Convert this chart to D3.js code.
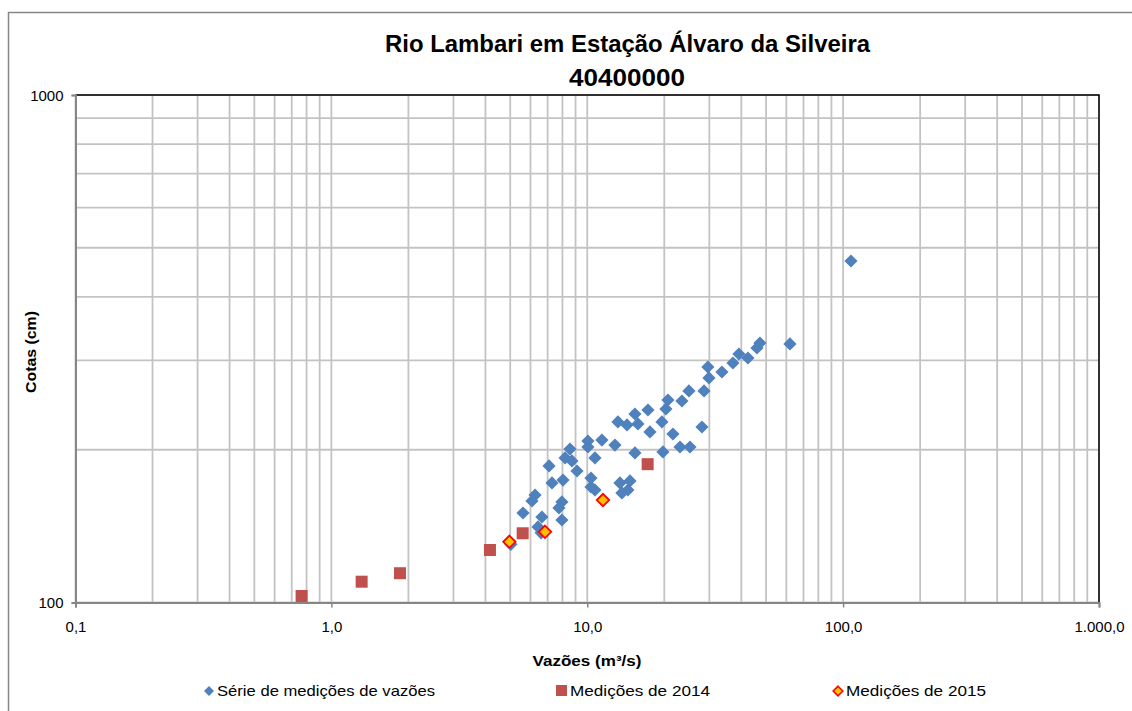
<!DOCTYPE html>
<html>
<head>
<meta charset="utf-8">
<script src="https://cdn.jsdelivr.net/npm/d3@7"></script>
<style>
  html, body { margin: 0; padding: 0; background: #fff; }
  svg { display: block; font-family: "Liberation Sans", Arial, sans-serif; }
</style>
</head>
<body>
<svg id="chart" width="1132" height="711"></svg>
<script>
// Rating curve measurements, Rio Lambari at Estação Álvaro da Silveira (40400000)
const chartTitle = "Rio Lambari em Estação Álvaro da Silveira";
const stationCode = "40400000";
const xTitle = "Vazões (m³/s)";
const yTitle = "Cotas (cm)";

// Historical series of discharge measurements: flow (m³/s) and stage (cm)
const serieVazoes = [107.3, 61.96, 47.3, 46.05, 39.15, 42.46, 37.1, 33.6, 29.6, 29.9,
  28.6, 24.97, 23.44, 20.67, 20.3, 17.27, 15.36, 13.18, 14.3, 15.78,
  19.58, 17.58, 21.62, 28.07, 23.04, 25.2, 19.76, 15.36, 12.83, 11.41,
  10.06, 10.06, 10.72, 8.56, 8.19, 8.71, 9.12, 7.09, 7.28, 8.04,
  10.34, 10.34, 10.72, 13.42, 14.69, 14.42, 13.66, 6.25, 6.08, 5.61,
  7.96, 7.75, 7.96, 6.65, 6.42, 6.6, 5.03];
const serieCotas = [470.9, 323.2, 324.6, 317.3, 308.8, 303.2, 296.4, 284.6, 291.1, 277.0,
  261.1, 261.1, 249.5, 250.6, 240.6, 239.5, 235.2, 226.9, 223.8, 224.8,
  226.9, 216.8, 214.8, 221.7, 202.5, 202.5, 198.0, 197.1, 204.3, 209.0,
  208.1, 202.5, 192.7, 200.6, 192.7, 190.1, 181.6, 185.8, 172.0, 174.3,
  175.9, 168.9, 166.6, 172.0, 173.6, 166.6, 164.4, 162.8, 158.5, 150.1,
  157.8, 153.6, 145.4, 147.4, 140.9, 137.2, 130.2];

// 2014 measurements
const vazoes2014 = [0.765, 1.313, 1.854, 4.166, 5.593, 17.22];
const cotas2014 = [103.0, 109.9, 114.2, 126.9, 136.9, 187.3];

// 2015 measurements
const vazoes2015 = [4.962, 6.836, 11.52];
const cotas2015 = [131.7, 137.8, 159.2];

// Axis ranges and labelled ticks
const xDomain = [0.1, 1000];
const yDomain = [100, 1000];
const xTickValues = [0.1, 1, 10, 100, 1000];
const yTickValues = [100, 1000];

const legendLabels = ["Série de medições de vazões", "Medições de 2014", "Medições de 2015"];

const colors = {
  blue: "#4f81bd",
  red: "#c0504d",
  yellow: "#ffc000",
  yellowStroke: "#ff0000",
  grid: "#c3c3c3",
  axis: "#868686"
};

const svg = d3.select("#chart");

// Outer chart frame (extends past the window on the right and bottom)
svg.append("rect")
  .attr("x", 8.5).attr("y", 12.5)
  .attr("width", 1300).attr("height", 900)
  .attr("fill", "#fff")
  .attr("stroke", colors.axis).attr("stroke-width", 1.5);

const plot = { left: 75.5, top: 95, right: 1099, bottom: 602.5 };
const W = plot.right - plot.left, H = plot.bottom - plot.top;

const x = d3.scaleLog().domain(xDomain).range([plot.left, plot.right]);
const y = d3.scaleLog().domain(yDomain).range([plot.bottom, plot.top]);

const ptBR = d3.formatLocale({ decimal: ",", thousands: ".", grouping: [3], currency: ["R$", ""] });
const fmtX = ptBR.format(",.1f");

// Gridlines: every integer multiple within each decade
const gx = svg.append("g");
gx.selectAll("line.vx").data(x.ticks()).join("line")
  .attr("x1", d => x(d)).attr("x2", d => x(d))
  .attr("y1", plot.top).attr("y2", plot.bottom)
  .attr("stroke", colors.grid).attr("stroke-width", 1.8);
gx.selectAll("line.hy").data(y.ticks()).join("line")
  .attr("y1", d => y(d)).attr("y2", d => y(d))
  .attr("x1", plot.left).attr("x2", plot.right)
  .attr("stroke", colors.grid).attr("stroke-width", 1.8);

// Plot area border (top and right)
svg.append("path")
  .attr("d", `M${plot.left},${plot.top}H${plot.right}V${plot.bottom}`)
  .attr("fill", "none").attr("stroke", "#000").attr("stroke-width", 1.5);

// Axes
const xAxis = d3.axisBottom(x).tickValues(xTickValues).tickFormat(fmtX).tickSize(5).tickPadding(14);
const yAxis = d3.axisLeft(y).tickValues(yTickValues).tickFormat(d3.format("d")).tickSize(4).tickPadding(8);

const gxa = svg.append("g").attr("transform", `translate(0,${plot.bottom})`).call(xAxis);
const gya = svg.append("g").attr("transform", `translate(${plot.left},0)`).call(yAxis);
[gxa, gya].forEach(g => {
  g.select(".domain").attr("stroke", colors.axis).attr("stroke-width", 2);
  g.selectAll(".tick line").attr("stroke", colors.axis).attr("stroke-width", 1.5);
  g.selectAll(".tick text").attr("fill", "#000").attr("font-size", 15)
    .attr("font-family", "'Liberation Sans', Arial, sans-serif");
});
gya.selectAll(".tick text").attr("dy", "0.35em");

// Markers
const diamond = s => `M0,${-s}L${s},0L0,${s}L${-s},0Z`;

svg.append("g").selectAll("path").data(d3.range(serieVazoes.length)).join("path")
  .attr("transform", i => `translate(${x(serieVazoes[i])},${y(serieCotas[i])})`)
  .attr("d", diamond(6.6))
  .attr("fill", colors.blue);

svg.append("g").selectAll("rect").data(d3.range(vazoes2014.length)).join("rect")
  .attr("x", i => x(vazoes2014[i]) - 6).attr("y", i => y(cotas2014[i]) - 6)
  .attr("width", 12).attr("height", 12)
  .attr("fill", colors.red);

svg.append("g").selectAll("path").data(d3.range(vazoes2015.length)).join("path")
  .attr("transform", i => `translate(${x(vazoes2015[i])},${y(cotas2015[i])})`)
  .attr("d", diamond(6.2))
  .attr("fill", colors.yellow)
  .attr("stroke", colors.yellowStroke).attr("stroke-width", 1.8);

// Titles
svg.append("text")
  .attr("x", 627.5).attr("y", 52)
  .attr("text-anchor", "middle")
  .attr("font-size", 24).attr("font-weight", "bold")
  .attr("textLength", 485).attr("lengthAdjust", "spacingAndGlyphs")
  .text(chartTitle);
svg.append("text")
  .attr("x", 627).attr("y", 86)
  .attr("text-anchor", "middle")
  .attr("font-size", 24).attr("font-weight", "bold")
  .attr("textLength", 116).attr("lengthAdjust", "spacingAndGlyphs")
  .text(stationCode);

svg.append("text")
  .attr("x", 587).attr("y", 666)
  .attr("text-anchor", "middle")
  .attr("font-size", 15).attr("font-weight", "bold")
  .attr("textLength", 109).attr("lengthAdjust", "spacingAndGlyphs")
  .text(xTitle);

svg.append("text")
  .attr("transform", "translate(36,352) rotate(-90)")
  .attr("text-anchor", "middle")
  .attr("font-size", 15).attr("font-weight", "bold")
  .attr("textLength", 82).attr("lengthAdjust", "spacingAndGlyphs")
  .text(yTitle);

// Legend
const legendY = 691;
const leg = svg.append("g");
leg.append("path").attr("transform", `translate(209,${legendY})`).attr("d", diamond(5)).attr("fill", colors.blue);
leg.append("rect").attr("x", 556).attr("y", legendY - 6).attr("width", 11).attr("height", 11).attr("fill", colors.red);
leg.append("path").attr("transform", `translate(838,${legendY})`).attr("d", diamond(4.8))
  .attr("fill", colors.yellow).attr("stroke", colors.yellowStroke).attr("stroke-width", 1.6);
const legendX = [217, 570, 846];
const legendW = [218, 140, 140];
legendLabels.forEach((t, i) => {
  leg.append("text").attr("x", legendX[i]).attr("y", legendY + 5)
    .attr("font-size", 15)
    .attr("textLength", legendW[i]).attr("lengthAdjust", "spacingAndGlyphs")
    .text(t);
});
</script>
</body>
</html>
